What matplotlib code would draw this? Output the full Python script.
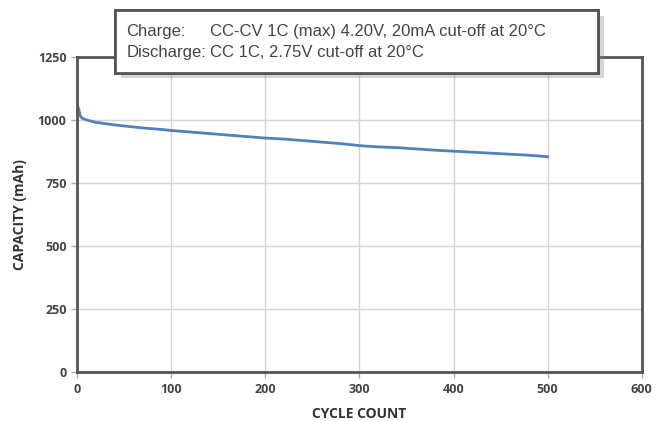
import matplotlib
matplotlib.use("Agg")
from matplotlib import pyplot as plt
from matplotlib.patches import Rectangle
import matplotlib.patheffects as pe

# cycle count vs capacity
cycles = [1, 2, 3, 4, 5, 7, 10, 15, 20, 25, 30, 40, 50, 60, 70, 80, 90, 100,
          120, 140, 160, 180, 200, 220, 240, 260, 280, 300, 320, 340, 360,
          380, 400, 420, 440, 460, 480, 500]
capacity = [1050, 1040, 1020, 1012, 1008, 1004, 1000, 995, 990, 988, 985, 980,
            976, 972, 968, 965, 962, 958, 952, 946, 940, 934, 928, 924, 918,
            912, 906, 898, 893, 890, 885, 880, 876, 872, 868, 864, 860, 854]

x_ticks = [0, 100, 200, 300, 400, 500, 600]
y_ticks = [0, 250, 500, 750, 1000, 1250]

labels = ["Charge:", "Discharge:"]
conditions = ["CC-CV 1C (max) 4.20V, 20mA cut-off at 20\u00b0C",
              "CC 1C, 2.75V cut-off at 20\u00b0C"]

plt.rcParams['font.family'] = ['Open Sans', 'DejaVu Sans']

fig = plt.figure(figsize=(6.59, 4.21), dpi=100, facecolor='white')
ax = fig.add_axes([0.117, 0.116, 0.857, 0.749])

ax.plot(cycles, capacity, color='#4f81bd', linewidth=2.0)

ax.set_xlim(0, 600)
ax.set_ylim(0, 1250)
ax.set_xticks(x_ticks)
ax.set_yticks(y_ticks)
ax.grid(True, color='#d4d4d4', linewidth=1.0)
ax.set_axisbelow(True)
for s in ax.spines.values():
    s.set_color('#555555')
    s.set_linewidth(2.0)
ax.tick_params(colors='#444444', labelsize=9, length=4, width=1, color='#aaaaaa')
for lab in ax.get_xticklabels() + ax.get_yticklabels():
    lab.set_fontweight('bold')

ax.set_xlabel('CYCLE COUNT', fontsize=10, fontweight='bold', color='#333333', labelpad=8)
ax.set_ylabel('CAPACITY (mAh)', fontsize=10, fontweight='bold', color='#333333', labelpad=8)

# note box with shadow
box = Rectangle((0.1745, 0.827), 0.733, 0.149, transform=fig.transFigure,
                facecolor='white', edgecolor='#555555', linewidth=2.0, zorder=5,
                path_effects=[pe.withSimplePatchShadow(offset=(4, -4), shadow_rgbFace='#888888', alpha=0.35),
                              pe.Normal()])
fig.patches.append(box)

fam = ['Liberation Sans', 'DejaVu Sans']
ys = [0.925, 0.875]
for lab, cond, y in zip(labels, conditions, ys):
    fig.text(0.192, y, lab, fontsize=12, color='#444444', va='center', ha='left',
             family=fam, zorder=6)
    fig.text(0.318, y, cond, fontsize=12, color='#444444', va='center', ha='left',
             family=fam, zorder=6)

fig.savefig('out.png', dpi=100, facecolor=fig.get_facecolor())
